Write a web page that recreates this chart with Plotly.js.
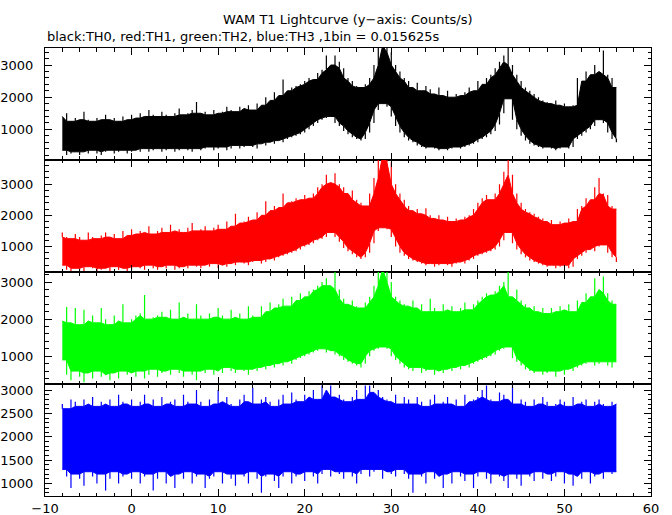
<!DOCTYPE html>
<html>
<head>
<meta charset="utf-8">
<script src="https://cdn.plot.ly/plotly-3.0.1.min.js"></script>
<style>
html,body{margin:0;padding:0;background:#fff;}
#chart{width:672px;height:515px;}
</style>
</head>
<body>
<div id="chart"></div>
<script>
// Time bins (s), sampled every 0.5 s from the picture
const time = [-8,-7.5,-7,-6.5,-6,-5.5,-5,-4.5,-4,-3.5,-3,-2.5,-2,-1.5,-1,-0.5,
  0,0.5,1,1.5,2,2.5,3,3.5,4,4.5,5,5.5,6,6.5,7,7.5,
  8,8.5,9,9.5,10,10.5,11,11.5,12,12.5,13,13.5,14,14.5,15,15.5,
  16,16.5,17,17.5,18,18.5,19,19.5,20,20.5,21,21.5,22,22.5,23,23.5,
  24,24.5,25,25.5,26,26.5,27,27.5,28,28.5,29,29.5,30,30.5,31,31.5,
  32,32.5,33,33.5,34,34.5,35,35.5,36,36.5,37,37.5,38,38.5,39,39.5,
  40,40.5,41,41.5,42,42.5,43,43.5,44,44.5,45,45.5,46,46.5,47,47.5,
  48,48.5,49,49.5,50,50.5,51,51.5,52,52.5,53,53.5,54,54.5,55,55.5,56];

// TH0 (black) upper / lower envelope, counts/s
const th0High = [1400,1500,1250,1350,1300,1550,1300,1250,1350,1300,1450,1300,1350,1250,1400,1300,
  1450,1350,1500,1400,1600,1450,1400,1550,1450,1400,1500,1650,1450,1500,1600,1850,
  1500,1550,1450,1600,1500,1550,1700,1600,1550,1700,1650,1750,1600,1800,1750,2000,
  1900,2150,2050,2550,2200,2300,2350,2400,2500,2600,2550,2750,2850,3300,3000,3300,
  3100,2900,2600,2500,2350,2300,2400,2600,3000,3600,3600,3600,3400,3000,2800,2600,
  2500,2300,2450,2200,2350,2250,2100,2300,2050,2200,2000,2100,2050,2150,2300,2200,
  2500,2400,2600,2700,2900,3100,3300,3600,3000,2700,2500,2300,2200,2100,2000,1900,
  1850,1800,1900,1750,1800,1700,1750,2600,2500,2800,2700,3000,2800,3450,2700,2600,2300];
const th0Low = [350,200,250,300,200,300,250,350,250,200,300,350,250,300,350,250,
  300,350,300,400,300,350,400,300,350,400,300,350,400,350,300,400,
  350,400,450,350,400,450,350,400,500,400,450,500,450,400,550,500,
  600,550,650,600,700,750,800,850,900,1000,1100,1200,1300,1350,1400,1200,
  1100,950,850,750,700,650,700,900,1200,1600,1800,1700,1400,1100,900,750,
  650,600,500,450,400,450,400,350,400,350,400,450,400,450,500,550,
  600,700,750,850,950,1150,1500,1950,1300,1000,800,650,550,500,450,400,
  450,400,350,400,450,400,450,700,800,900,1000,1100,1300,1200,900,700,600];

// TH1 (red)
const th1High = [1450,1300,1250,1400,1300,1200,1450,1300,1250,1350,1450,1300,1400,1250,1500,1350,
  1550,1400,1500,1450,1650,1400,1500,1600,1450,1700,1500,1550,1450,1600,1750,1500,
  1550,1650,1500,1600,1700,1550,1800,1650,2050,1750,1800,1950,1850,2100,2000,2450,
  2150,2300,2250,2700,2400,2450,2550,2500,2650,2550,2700,2900,3000,3300,3050,3350,
  3000,2900,2700,2800,2500,2400,2300,2700,3200,3900,3900,3900,3700,3000,2700,2500,
  2300,2150,2200,2050,2230,2000,1900,2000,1850,1950,1800,1900,1850,1950,2000,2200,
  2400,2550,2650,2500,2700,3000,3400,3900,3300,2700,2400,2200,2100,2050,1950,1900,
  1800,1850,1700,1800,1750,1900,1800,2200,2300,2550,2500,2900,3200,2700,2650,2300,2200];
const th1Low = [400,250,200,300,250,200,350,300,200,250,300,200,350,250,300,200,
  250,350,300,250,400,300,250,350,300,400,250,300,350,300,400,350,
  300,400,350,450,300,400,350,450,400,500,450,400,500,550,450,500,
  600,550,650,700,750,800,850,900,1000,1050,1100,1200,1250,1300,1450,1300,
  1150,950,850,750,650,600,650,800,1100,1500,1600,1550,1300,1000,800,700,
  600,550,500,450,400,450,350,400,450,400,350,450,500,450,550,600,
  700,750,800,850,900,1000,1200,1450,1100,900,750,650,550,500,450,400,
  350,400,300,350,400,300,350,600,700,800,900,850,1000,1050,800,650,500];

// TH2 (green)
const th2High = [1950,2330,1900,2300,1850,2250,1950,2100,1900,2300,2000,1850,2100,1950,2400,1900,
  2000,2100,2150,2650,2000,2050,2100,2200,2050,2250,2000,2450,2050,2150,2000,2400,
  2100,2000,2150,2050,2300,2100,2000,2250,2050,2150,2000,2350,2100,2050,2350,2200,
  2450,2300,2400,2550,2350,2600,2500,2700,2600,2750,2800,2900,3000,3100,2900,3300,
  2800,2550,2400,2500,2350,2300,2450,2600,2900,3350,3350,3350,3000,2600,2500,2400,
  2350,2500,2300,2400,2200,2550,2300,2200,2400,2250,2350,2200,2300,2450,2250,2400,
  2500,2600,2700,2650,2750,2900,3000,3350,2600,2800,2500,2400,2300,2350,2200,2300,
  2150,2300,2200,2350,2250,2400,2200,2500,2450,2700,2600,3100,2800,3150,2700,2500,2400];
const th2Low = [900,500,350,600,450,300,550,400,600,450,500,350,550,400,600,500,
  550,450,600,400,500,650,450,550,600,500,650,550,450,600,500,350,
  600,550,650,500,600,550,700,600,550,650,600,500,650,600,700,650,
  750,700,800,750,850,800,900,950,1000,1050,1100,1150,1200,1100,1150,1050,
  1000,900,850,800,750,700,800,1000,1150,1200,1250,1200,1000,900,800,700,
  650,600,700,550,600,650,500,600,550,650,600,700,650,750,700,800,
  850,900,950,1000,1050,1150,1200,1250,950,850,750,650,600,550,600,500,
  550,600,450,600,500,650,600,700,750,800,850,750,800,850,750,700,850];

// TH3 (blue)
const th3High = [2700,2600,2800,2750,2650,2800,2700,2850,2650,2750,2700,2800,2650,2900,2750,2700,
  2800,2650,2750,2900,2700,2800,2650,2850,2700,2750,2800,2650,2900,2750,2700,3000,
  2750,2650,2800,2700,3000,2750,2850,2700,2650,2800,2900,2750,3050,2700,2800,2850,
  2750,2650,2800,2900,2700,2950,2800,2750,2900,2850,3000,2800,3100,3000,3100,2850,
  2900,2800,2750,2850,3000,2800,3100,3100,2950,3000,2850,2800,2750,2900,2700,2850,
  2800,2700,2850,2750,2650,2800,2900,2700,2750,2850,2700,2800,2650,2900,2750,2800,
  2850,3000,3100,2800,2750,2950,2900,2800,3100,2700,2800,2750,2650,2800,2700,2850,
  2750,2650,2700,2800,2750,2650,2850,2700,2750,2800,2650,2750,2800,2700,2650,2750,2700];
const th3Low = [1300,1150,900,1200,1100,950,1250,1150,1000,1200,850,1100,1250,1000,1150,1200,
  1100,1250,1000,1150,1200,850,1100,1250,1000,1150,900,1200,1100,1250,1000,1150,
  1200,900,1100,1150,1250,1000,1200,1100,950,1200,1150,1000,1250,1100,800,1150,
  1200,1050,900,1150,1250,1000,1150,1200,1050,1250,1150,1000,1200,1300,1150,1250,
  1200,1100,1250,1150,1000,1200,1300,1150,1250,1300,1100,1250,1200,1150,1300,1200,
  1100,800,1200,1150,1000,1250,1100,1150,900,1200,1000,1250,1150,1050,1200,900,
  1150,1250,1100,1000,1200,1150,1050,900,1200,1100,950,1200,1150,1050,1250,1100,
  1200,1050,1150,1250,1000,1200,950,1150,1100,1250,1000,1150,1200,1100,1250,1200,1250];

const yTickVals14 = [1000, 2000, 3000];
const yTickVals4 = [1000, 1500, 2000, 2500, 3000];
const xTickVals = [-10, 0, 10, 20, 30, 40, 50, 60];

const titleText = 'WAM T1 Lightcurve (y\u2212axis: Counts/s)';
const subtitleText = 'black:TH0, red:TH1, green:TH2, blue:TH3 ,1bin = 0.015625s';

// ---- drawing ----
const series = [
  {hi: th0High, lo: th0Low, color: '#000000'},
  {hi: th1High, lo: th1Low, color: '#ff0000'},
  {hi: th2High, lo: th2Low, color: '#00ff00'},
  {hi: th3High, lo: th3Low, color: '#0000ff'}
];
const domains = [[0.751, 1], [0.5, 0.751], [0.249, 0.5], [0, 0.249]];
const yRanges = [[60, 3530], [180, 3790], [240, 3270], [730, 3120]];
const FONT = 'DejaVu Sans';

// dense core = envelope limited by neighbouring samples; single-sample excursions drawn as thin spikes
function coreOf(arr, pick) {
  return arr.map((v, i) => pick(arr[Math.max(0, i - 1)], v, arr[Math.min(arr.length - 1, i + 1)]));
}

const traces = [];
const layout = {
  width: 672, height: 515,
  margin: {l: 45, r: 21, t: 48, b: 19},
  paper_bgcolor: '#ffffff', plot_bgcolor: '#ffffff',
  showlegend: false,
  font: {family: FONT, size: 13, color: '#000'},
  annotations: [
    {text: titleText, xref: 'paper', yref: 'paper', x: 0.5, y: 1.063, xanchor: 'center', yanchor: 'middle', showarrow: false, font: {family: FONT, size: 13, color: '#000'}},
    {text: subtitleText, xref: 'paper', yref: 'paper', x: 0.0, y: 1.026, xanchor: 'left', yanchor: 'middle', showarrow: false, font: {family: FONT, size: 13, color: '#000'}}
  ]
};

series.forEach((s, i) => {
  const n = i + 1;
  const xa = 'x' + (n === 1 ? '' : n), ya = 'y' + (n === 1 ? '' : n);
  const coreHi = coreOf(s.hi, Math.min);
  const coreLo = coreOf(s.lo, Math.max);
  traces.push({x: time, y: coreLo, xaxis: xa, yaxis: ya, type: 'scatter', mode: 'lines',
    line: {color: s.color, width: 1}, hoverinfo: 'skip'});
  traces.push({x: time, y: coreHi, xaxis: xa, yaxis: ya, type: 'scatter', mode: 'lines',
    fill: 'tonexty', fillcolor: s.color, line: {color: s.color, width: 1}, hoverinfo: 'skip'});
  const sx = [], sy = [];
  time.forEach((t, k) => {
    sx.push(t, t, null, t, t, null);
    sy.push(coreHi[k], s.hi[k], null, coreLo[k], s.lo[k], null);
  });
  traces.push({x: sx, y: sy, xaxis: xa, yaxis: ya, type: 'scatter', mode: 'lines',
    connectgaps: false, line: {color: s.color, width: 1.2}, hoverinfo: 'skip'});
  const axCommon = {showline: true, linecolor: '#000', linewidth: 1, mirror: 'ticks',
    ticks: 'inside', ticklen: 7, tickwidth: 1, tickcolor: '#000',
    showgrid: false, zeroline: false, fixedrange: true};
  layout['xaxis' + (n === 1 ? '' : n)] = Object.assign({}, axCommon, {
    domain: [0, 1], range: [-10, 60], anchor: ya,
    tickmode: 'array', tickvals: xTickVals, showticklabels: i === 3,
    minor: {ticks: 'inside', ticklen: 3.5, dtick: 2, tick0: 0, tickcolor: '#000', showgrid: false},
    tickfont: {family: FONT, size: 13, color: '#000'}, ticklabelstandoff: 0
  });
  layout['yaxis' + (n === 1 ? '' : n)] = Object.assign({}, axCommon, {
    domain: domains[i], range: yRanges[i], anchor: xa,
    tickmode: 'array', tickvals: i === 3 ? yTickVals4 : yTickVals14,
    minor: {ticks: 'inside', ticklen: 3.5, dtick: i === 3 ? 100 : 200, tick0: 0, tickcolor: '#000', showgrid: false},
    tickfont: {family: FONT, size: 13, color: '#000'}, ticklabelstandoff: 8
  });
});

Plotly.newPlot('chart', traces, layout, {displayModeBar: false, staticPlot: true});
</script>
</body>
</html>
